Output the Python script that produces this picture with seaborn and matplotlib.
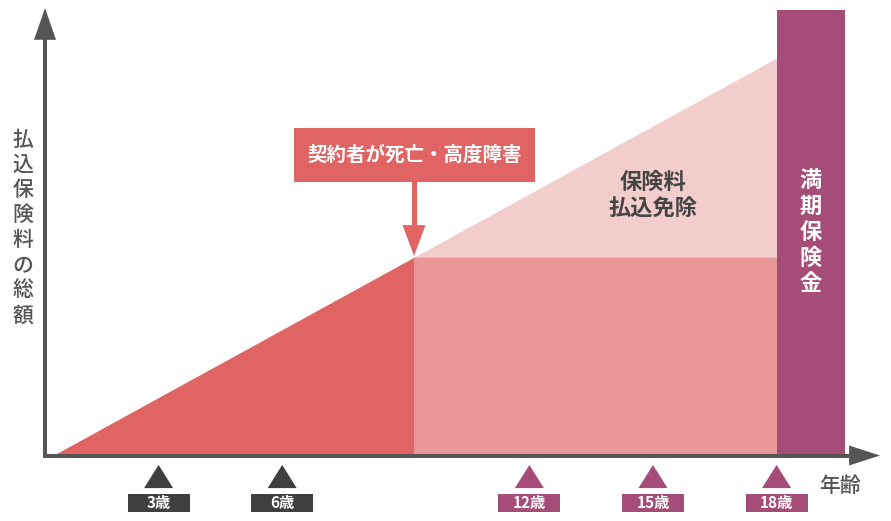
import numpy as np
import pandas as pd
import matplotlib
matplotlib.use("Agg")
import matplotlib.pyplot as plt
from matplotlib.patches import Polygon, Rectangle
import seaborn as sns

# ---------------- data ----------------
tick_ages = [3, 6, 12, 15, 18]
tick_labels = ["3歳", "6歳", "12歳", "15歳", "18歳"]
tick_group = ["払込", "払込", "免除", "免除", "免除"]

start_age = 0.5
death_age = 9.2
maturity_age = 18.0
bar_end_age = 19.65

paid_ages = [start_age, death_age]
paid_values = [0.0, 49.7]
waived_ages = [death_age, maturity_age]
waived_values = [49.7, 100.0]
maturity_benefit = 112.1

callout_text = "契約者が死亡・高度障害"
waiver_text = "保険料\n払込免除"
benefit_text = "満期保険金"
ylabel_text = "払込保険料の総額"
xlabel_text = "年齢"

# ---------------- style ----------------
RED = "#E06464"
MID = "#E89696"
LIGHT = "#F3CCCC"
PURPLE = "#A64C79"
DARK = "#3F3F3F"
AXIS = "#555555"

sns.set_theme(style="white")
plt.rcParams["font.family"] = ["Noto Sans CJK JP", "DejaVu Sans"]

fig = plt.figure(figsize=(8.91, 5.21), dpi=100)
ax = fig.add_axes([0, 0, 1, 1])
ax.set_xlim(-0.8495, 20.777)
ax.set_ylim(-16.92, 114.65)
ax.axis("off")

PX_X = 41.2   # px per age unit
PX_Y = 3.96   # px per value unit

# areas
ax.fill_between(paid_ages, 0, paid_values, color=RED, linewidth=0, zorder=2)
ax.fill_between(waived_ages, 0, [waived_values[0]] * 2, color=MID, linewidth=0, zorder=2)
ax.fill_between(waived_ages, [waived_values[0]] * 2, waived_values, color=LIGHT, linewidth=0, zorder=2)
ax.bar([maturity_age], [maturity_benefit], width=bar_end_age - maturity_age, align="edge",
       color=PURPLE, linewidth=0, zorder=2)

# axes arrows
ax_y0 = -0.38
ax_x0 = 0.243
lw = 4 * 72 / 100
ax.plot([ax_x0 - 0.048, 19.78], [ax_y0, ax_y0], color=AXIS, lw=lw, solid_capstyle="butt", zorder=3)
ax.plot([ax_x0, ax_x0], [ax_y0 - 0.5, 104.8], color=AXIS, lw=lw, solid_capstyle="butt", zorder=3)
ax.add_patch(Polygon([(19.76, ax_y0 - 10 / PX_Y), (20.51, ax_y0), (19.76, ax_y0 + 10 / PX_Y)],
                     closed=True, color=AXIS, linewidth=0, zorder=3))
ax.add_patch(Polygon([(ax_x0 - 11 / PX_X, 104.6), (ax_x0, 112.6), (ax_x0 + 11 / PX_X, 104.6)],
                     closed=True, color=AXIS, linewidth=0, zorder=3))

# tick markers
df = pd.DataFrame({"age": tick_ages, "label": tick_labels, "group": tick_group})
df["y"] = -5.68
tri = [(-1, -0.8), (1, -0.8), (0, 0.8)]
sns.scatterplot(data=df, x="age", y="y", hue="group", palette={"払込": DARK, "免除": PURPLE},
                marker=tri, s=(29 * 0.72) ** 2, linewidth=0, legend=False, ax=ax, zorder=4)

box_w = 62 / PX_X
box_h = 18 / PX_Y
for a, lab, g in zip(tick_ages, tick_labels, tick_group):
    c = DARK if g == "払込" else PURPLE
    ax.add_patch(Rectangle((a - box_w / 2, -12.37 - box_h / 2), box_w, box_h, color=c,
                           linewidth=0, zorder=4))
    ax.text(a, -12.45, lab, color="white", fontsize=11, fontweight="bold",
            ha="center", va="center", zorder=5)

# axis labels
ax.text(19.54, -8.08, xlabel_text, color=AXIS, fontsize=15, fontweight="medium",
        ha="center", va="center")
ax.text(-0.29, 57.2, "\n".join(ylabel_text), color=AXIS, fontsize=15, fontweight="medium",
        ha="center", va="center", linespacing=1.18)

# callout
bx0, bx1 = 6.286, 12.136
by0, by1 = 68.7, 82.3
ax.add_patch(Rectangle((bx0, by0), bx1 - bx0, by1 - by0, color=RED, linewidth=0, zorder=5))
ax.text((bx0 + bx1) / 2, (by0 + by1) / 2, callout_text, color="white", fontsize=14,
        fontweight="bold", ha="center", va="center", zorder=6)
ax.add_patch(Rectangle((death_age - 2.5 / PX_X, 57.6), 5 / PX_X, by0 - 57.6, color=RED,
                       linewidth=0, zorder=5))
ax.add_patch(Polygon([(death_age - 11.5 / PX_X, 57.8), (death_age, paid_values[1] + 0.3),
                      (death_age + 11.5 / PX_X, 57.8)], closed=True, color=RED, linewidth=0, zorder=5))

# area labels
ax.text(15.0, 65.2, waiver_text, color="#444444", fontsize=16, fontweight="bold",
        ha="center", va="center", linespacing=1.2, zorder=6)
ax.text((maturity_age + bar_end_age) / 2, 56.0, "\n".join(benefit_text), color="white",
        fontsize=16, fontweight="bold", ha="center", va="center", linespacing=1.15, zorder=6)

fig.savefig("out.png", dpi=100)
